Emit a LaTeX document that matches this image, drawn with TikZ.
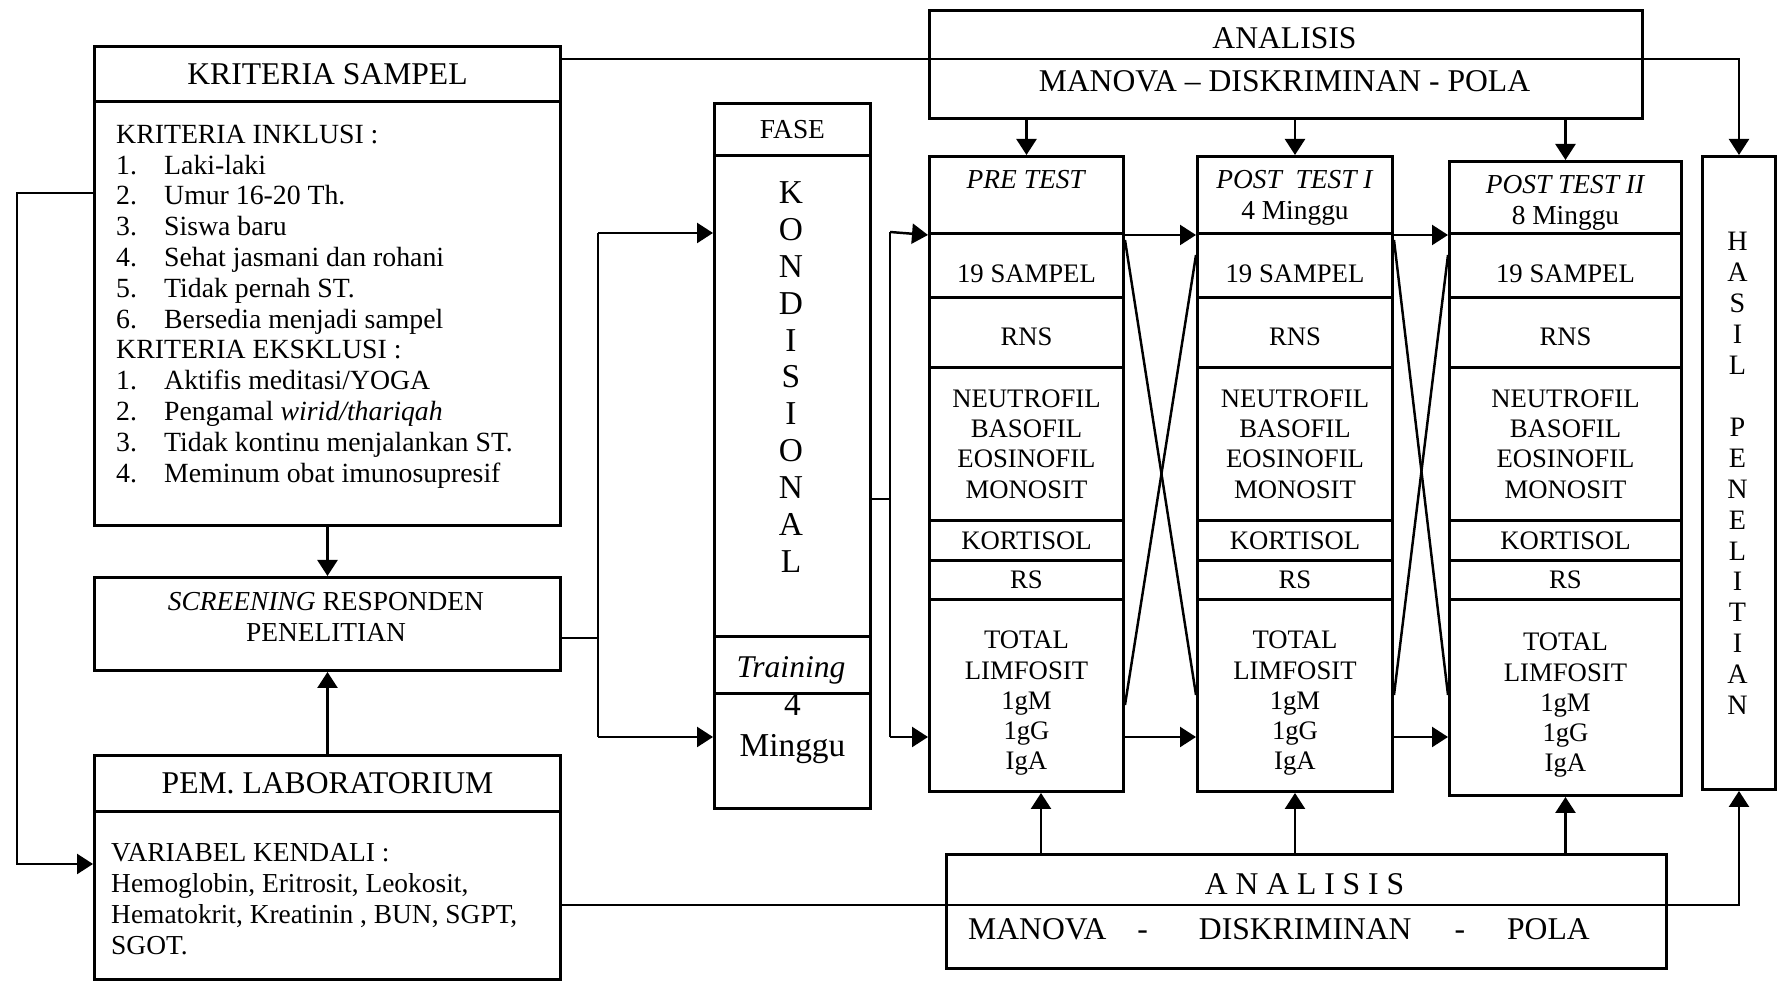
\documentclass[tikz,border=0pt]{standalone}
\usepackage{fontspec}
\setmainfont{Liberation Serif}
\usetikzlibrary{positioning,arrows.meta}
\tikzset{
  fig/.style={font=\fontsize{7.8}{8.8}\selectfont,line width=0.7pt},
  cell/.style={draw,line width=0.85pt,anchor=north west,inner sep=0pt,align=center},
  colcell/.style={cell,font=\fontsize{7.6}{8.6}\selectfont},
  hdrtxt/.style={font=\fontsize{9}{11}\selectfont},
  txt/.style={inner sep=0pt,align=left},
  ln/.style={-{Triangle[length=1.6mm,width=2mm]}},
}
\newcommand{\kitem}[2]{\makebox[4.8mm][l]{#1}#2}

\begin{document}
\begin{tikzpicture}[fig,x=1mm,y=-1mm,
  vert/.style={align=center,inner sep=0pt},
  bigvert/.style={vert,font=\fontsize{9.5}{10.5}\selectfont}]
\useasboundingbox (0,0) rectangle (177.8,98.3);

\def\kw{46.6}

% ------------------------------------------------ left column
\node[cell,hdrtxt,minimum width=\kw mm,minimum height=5.5mm] (kritH) at (9.3,4.5) {KRITERIA SAMPEL};
\node[cell,minimum width=\kw mm,minimum height=42.4mm] (kritB) at (9.3,10.0) {};
\node[txt,anchor=west,font=\fontsize{7.9}{8.77}\selectfont] (kritL) at (11.5,30.65) {KRITERIA INKLUSI :\\
  \kitem{1.}{Laki-laki}\\
  \kitem{2.}{Umur 16-20 Th.}\\
  \kitem{3.}{Siswa baru}\\
  \kitem{4.}{Sehat jasmani dan rohani}\\
  \kitem{5.}{Tidak pernah ST.}\\
  \kitem{6.}{Bersedia menjadi sampel}\\
  KRITERIA EKSKLUSI :\\
  \kitem{1.}{Aktifis meditasi/YOGA}\\
  \kitem{2.}{Pengamal \textit{wirid/thariqah}}\\
  \kitem{3.}{Tidak kontinu menjalankan ST.}\\
  \kitem{4.}{Meminum obat imunosupresif}};

\node[cell,minimum width=\kw mm,minimum height=9.3mm] (scr) at (9.3,57.6) {};
\node[vert] (scrL) at (32.6,61.7) {\textit{SCREENING} RESPONDEN\\PENELITIAN};

\node[cell,hdrtxt,minimum width=\kw mm,minimum height=5.6mm] (labH) at (9.3,75.4) {PEM. LABORATORIUM};
\node[cell,minimum width=\kw mm,minimum height=16.8mm] (labB) at (9.3,81.0) {};
\node[txt,anchor=west] (labL) at (11.0,89.9) {VARIABEL KENDALI :\\
  Hemoglobin, Eritrosit, Leokosit,\\
  Hematokrit, Kreatinin , BUN, SGPT,\\
  SGOT.};

% ------------------------------------------------ fase
\node[cell,minimum width=15.6mm,minimum height=5.2mm] (fase) at (71.3,10.2) {FASE};
\node[cell,minimum width=15.6mm,minimum height=48.1mm] (kond) at (71.3,15.4) {};
\node[bigvert] (kondL) at (79.1,37.7) {K\\O\\N\\D\\I\\S\\I\\O\\N\\A\\L};
\node[cell,minimum width=15.6mm,minimum height=5.7mm] (train) at (71.3,63.5) {};
\node[vert,font=\fontsize{9}{11}\selectfont] (trainL) at (79.1,67.0) {\textit{Training}};
\node[cell,minimum width=15.6mm,minimum height=11.5mm] (ming) at (71.3,69.2) {};
\node[vert,font=\fontsize{9.5}{11.5}\selectfont,below=0.05mm of ming.north] (mingL) {4\\Minggu};

% ------------------------------------------------ test columns
\foreach \c/\x/\w/\t/\b/\hd in {%
  pre/92.8/19.4/15.5/79.0/{\textit{PRE TEST}},
  post1/119.6/19.5/15.5/79.0/{\textit{POST\ \ TEST I}\\4 Minggu},
  post2/144.8/23.2/16.0/79.4/{\textit{POST TEST II}\\8 Minggu}}
{
  \node[colcell,minimum width=\w mm,minimum height={(23.2-\t)*1mm}] (\c-hd) at (\x,\t) {};
  \node[vert,below=1.4mm of \c-hd.north] (\c-ht) {\hd};
  \node[colcell,minimum width=\w mm,minimum height=6.4mm] (\c-smp) at (\x,23.2) {};
  \node[vert,font=\fontsize{7.6}{8.6}\selectfont] (\c-smpL) at (\c-smp.center) [yshift=-0.8mm] {19 SAMPEL};
  \node[colcell,minimum width=\w mm,minimum height=7mm] (\c-rns) at (\x,29.6) {};
  \node[vert,font=\fontsize{7.6}{8.6}\selectfont] (\c-rnsL) at (\c-rns.center) [yshift=-0.4mm] {RNS};
  \node[colcell,minimum width=\w mm,minimum height=15.3mm] (\c-sel) at (\x,36.6) {NEUTROFIL\\BASOFIL\\EOSINOFIL\\MONOSIT};
  \node[colcell,minimum width=\w mm,minimum height=4mm] (\c-kor) at (\x,51.9) {KORTISOL};
  \node[colcell,minimum width=\w mm,minimum height=3.9mm] (\c-rs) at (\x,55.9) {RS};
  \node[colcell,minimum width=\w mm,minimum height={(\b-59.8)*1mm}] (\c-lim) at (\x,59.8) {};
  \node[vert,font=\fontsize{7.6}{8.6}\selectfont] (\c-limL) at (\c-lim.center) [yshift=-0.8mm] {TOTAL\\LIMFOSIT\\1gM\\1gG\\IgA};
}

\node[cell,minimum width=7.3mm,minimum height=63.3mm] (hasil) at (170.1,15.5) {};
\node[vert,font=\fontsize{8}{8.8}\selectfont] (hasilL) at (173.75,47.35) {H\\A\\S\\I\\L\\[8.8pt]P\\E\\N\\E\\L\\I\\T\\I\\A\\N};

% ------------------------------------------------ analisis boxes
\node[cell,minimum width=71.3mm,minimum height=10.8mm] (anaT) at (92.8,0.9) {};
\node[hdrtxt,inner sep=0pt] (anaT-a) at (128.45,3.8) {ANALISIS};
\node[hdrtxt,inner sep=0pt] (anaT-b) at (128.45,8.1) {MANOVA -- DISKRIMINAN - POLA};

\node[cell,minimum width=72mm,minimum height=11.4mm] (anaB) at (94.5,85.3) {};
\node[hdrtxt,inner sep=0pt] (anaB-a) at (130.45,88.4) {A N A L I S I S};
\node[hdrtxt,inner sep=0pt,anchor=west] (anaB-b) at (96.7,92.9)
  {MANOVA\hspace{3.1mm}-\hspace{5.1mm}DISKRIMINAN\hspace{4.3mm}-\hspace{4.2mm}POLA};

% ------------------------------------------------ connectors
\coordinate (lt) at (1.7,19.3);
\coordinate (lb) at (1.7,86.4);
\draw[ln] (kritB.west |- lt) -- (lt) -- (lb) -- (labB.west |- lb);
\draw[ln] (kritB.south) -- (scr.north);
\draw[ln] (labH.north) -- (scr.south);

\coordinate (sM) at (59.8,63.8);
\coordinate (sT) at (59.8,23.3);
\coordinate (sB) at (59.8,73.7);
\draw (scr.east |- sM) -- (sM);
\draw (sT) -- (sB);
\draw[ln] (sT) -- (kond.west |- sT);
\draw[ln] (sB) -- (ming.west |- sB);

\coordinate (kM) at (89.0,49.9);
\coordinate (kT) at (89.0,23.2);
\coordinate (kB) at (89.0,73.7);
\draw (kond.east |- kM) -- (kM);
\draw (kT) -- (kB);
\draw[ln] (kT) -- (pre-hd.south west);
\draw[ln] (kB) -- (pre-lim.west |- kB);

\draw[ln] (pre-hd.south east) -- (post1-hd.south west);
\draw[ln] (post1-hd.south east) -- (post2-hd.south west);
\draw[ln] (pre-lim.east |- kB) -- (post1-lim.west |- kB);
\draw[ln] (post1-lim.east |- kB) -- (post2-lim.west |- kB);

% crossing lines
\coordinate (xa) at (0,24.0);
\coordinate (xb) at (0,69.5);
\coordinate (xc) at (0,70.5);
\coordinate (xd) at (0,25.5);
\draw (pre-smp.east |- xa) -- (post1-lim.west |- xb);
\draw (pre-lim.east |- xc) -- (post1-smp.west |- xd);
\draw (post1-smp.east |- xa) -- (post2-lim.west |- xb);
\draw (post1-lim.east |- xb) -- (post2-smp.west |- xd);

% analisis to columns
\draw[ln] (anaT.south -| pre-hd.north) -- (pre-hd.north);
\draw[ln] (anaT.south -| post1-hd.north) -- (post1-hd.north);
\draw[ln] (anaT.south -| post2-hd.north) -- (post2-hd.north);
\coordinate (ub) at (104.1,85.3);
\draw[ln] (ub) -- (ub |- pre-lim.south);
\draw[ln] (anaB.north -| post1-lim.south) -- (post1-lim.south);
\draw[ln] (anaB.north -| post2-lim.south) -- (post2-lim.south);

% long lines to hasil
\coordinate (topln) at (0,5.9);
\coordinate (botln) at (0,90.5);
\draw[ln] (kritH.east |- topln) -| (hasil.north);
\draw[ln] (labB.east |- botln) -| (hasil.south);

\end{tikzpicture}
\end{document}
